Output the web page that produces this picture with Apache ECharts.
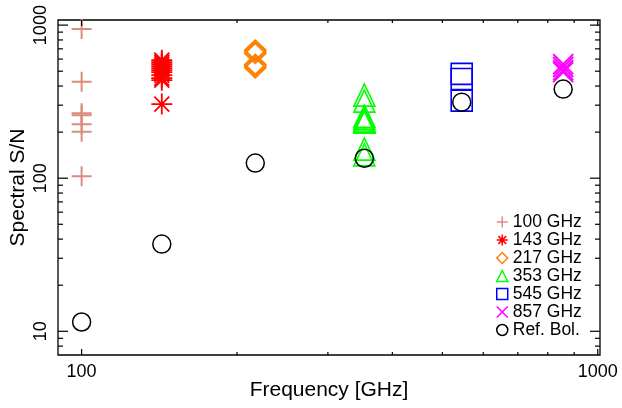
<!DOCTYPE html>
<html><head><meta charset="utf-8">
<script src="https://cdn.jsdelivr.net/npm/echarts@6/dist/echarts.min.js"></script>
<style>html,body{margin:0;padding:0;background:#fff}#c{width:622px;height:408px}</style>
</head><body><div id="c"></div>
<script>
const seriesNames = ['100 GHz', '143 GHz', '217 GHz', '353 GHz', '545 GHz', '857 GHz', 'Ref. Bol.'];
const freqs = [100, 143, 217, 353, 545, 857];
const sn100 = [942, 426, 266, 258, 225, 201, 103];
const sn143 = [590, 572, 556, 540, 524, 508, 493, 471, 451, 437, 305];
const sn217 = [687, 669, 653, 554, 540, 526];
const sn353 = [349, 319, 254, 247, 240, 236, 232, 155, 142];
const sn545 = [480, 445, 321];
const sn857 = [556, 532, 508, 493];
const refBol = [11.5, 37.1, 125.5, 135, 314, 382];
const xMajorTicks = [100, 1000];
const xMinorTicks = [200, 300, 400, 500, 600, 700, 800, 900];
const yMajorTicks = [10, 100, 1000];
const yMinorTicks = [8, 9, 20, 30, 40, 50, 60, 70, 80, 90, 200, 300, 400, 500, 600, 700, 800, 900];

const FONT = "'Liberation Sans', Arial, sans-serif";
const chart = echarts.init(document.getElementById('c'), null, {renderer: 'canvas'});

function pts(freq, vals) { return vals.map(v => [freq, v]); }
function isPow10(v) { const l = Math.log10(v); return Math.abs(l - Math.round(l)) < 1e-6; }

function tickSeries(values, axis, len) {
  return {
    type: 'custom', silent: true, clip: false, z: 5,
    data: values.map(v => axis === 'x' ? [v, 100] : [100, v]),
    renderItem: (params, api) => {
      const cs = params.coordSys;
      const p = api.coord([api.value(0), api.value(1)]);
      const style = {stroke: '#000', lineWidth: 1.2};
      if (axis === 'x') {
        return {type: 'group', children: [
          {type: 'line', shape: {x1: p[0], y1: cs.y + cs.height, x2: p[0], y2: cs.y + cs.height - len}, style},
          {type: 'line', shape: {x1: p[0], y1: cs.y, x2: p[0], y2: cs.y + len}, style}
        ]};
      }
      return {type: 'group', children: [
        {type: 'line', shape: {x1: cs.x, y1: p[1], x2: cs.x + len, y2: p[1]}, style},
        {type: 'line', shape: {x1: cs.x + cs.width, y1: p[1], x2: cs.x + cs.width - len, y2: p[1]}, style}
      ]};
    }
  };
}

function scat(name, data, symbol, size, color, bw) {
  return {
    name, type: 'scatter', data, symbol, symbolSize: size, z: 3,
    itemStyle: {color: 'rgba(0,0,0,0)', borderColor: color, borderWidth: bw, opacity: 1},
    emphasis: {disabled: true}
  };
}

const option = {
  animation: false,
  backgroundColor: '#fff',
  textStyle: {fontFamily: FONT},
  grid: {left: 58, right: 22, top: 20, bottom: 53, show: true, borderColor: '#000', borderWidth: 1.3,
    backgroundColor: 'rgba(0,0,0,0)', outerBoundsMode: 'none', containLabel: false},
  xAxis: {
    type: 'log', logBase: 10, min: 90, max: 1010,
    axisLine: {show: false}, axisTick: {show: false}, splitLine: {show: false}, minorTick: {show: false},
    axisLabel: {fontSize: 18, color: '#000', fontFamily: FONT, margin: 8,
      formatter: v => isPow10(v) ? String(Math.round(v)) : ''},
    name: 'Frequency [GHz]', nameLocation: 'middle', nameGap: 25, nameMoveOverlap: false,
    nameTextStyle: {fontSize: 21, color: '#000', fontFamily: FONT}
  },
  yAxis: {
    type: 'log', logBase: 10, min: 7, max: 1080,
    axisLine: {show: false}, axisTick: {show: false}, splitLine: {show: false}, minorTick: {show: false},
    axisLabel: {fontSize: 18, color: '#000', fontFamily: FONT, margin: 8, rotate: 90,
      formatter: v => isPow10(v) ? String(Math.round(v)) : ''},
    name: 'Spectral S/N', nameLocation: 'middle', nameGap: 29, nameMoveOverlap: false,
    nameTextStyle: {fontSize: 21, color: '#000', fontFamily: FONT}
  },
  legend: {
    orient: 'vertical', left: 491, top: 208, itemWidth: 11, itemHeight: 11, itemGap: 0,
    textStyle: {fontSize: 17.5, color: '#000', fontFamily: FONT, lineHeight: 18},
    itemStyle: {borderWidth: 1.5},
    data: seriesNames
  },
  series: [
    scat(seriesNames[0], pts(freqs[0], sn100), 'path://M10,0L10,20M0,10L20,10', 20, '#dc8c7e', 2),
    scat(seriesNames[1], pts(freqs[1], sn143), 'path://M10,0L10,20M0,10L20,10M2.9,2.9L17.1,17.1M2.9,17.1L17.1,2.9', 21, '#ff0000', 1.8),
    scat(seriesNames[2], pts(freqs[2], sn217), 'diamond', [21, 20], '#ff8000', 1.6),
    scat(seriesNames[3], pts(freqs[3], sn353), 'triangle', [21, 22], '#00ff00', 1.6),
    scat(seriesNames[4], pts(freqs[4], sn545), 'rect', [21, 21], '#0000ff', 1.6),
    scat(seriesNames[5], pts(freqs[5], sn857), 'path://M0,0L20,20M0,20L20,0', 20, '#ff00ff', 2),
    scat(seriesNames[6], freqs.map((f, i) => [f, refBol[i]]), 'circle', 18, '#000000', 1.5),
    tickSeries(xMajorTicks, 'x', 6),
    tickSeries(xMinorTicks, 'x', 3),
    tickSeries(yMajorTicks, 'y', 10),
    tickSeries(yMinorTicks, 'y', 5)
  ]
};
chart.setOption(option);
</script>
</body></html>
